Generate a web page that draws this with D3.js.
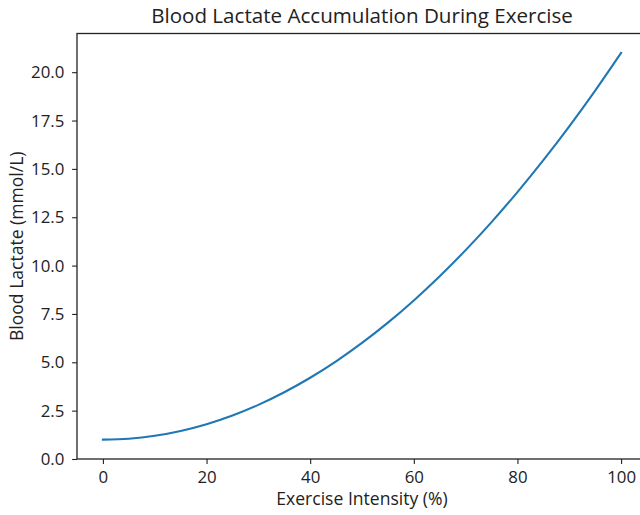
<!DOCTYPE html>
<html><head><meta charset="utf-8">
<script src="https://cdn.jsdelivr.net/npm/d3@7"></script>
<style>body{margin:0;background:#fff}svg{display:block}text{font-family:"Open Sans",sans-serif;fill:#222}</style>
</head><body>
<svg id="c" width="640" height="515"></svg>
<script>
const intensity = [0,5,10,15,20,25,30,35,40,45,50,55,60,65,70,75,80,85,90,95,100];
const lactate = [1.0,1.05,1.2,1.45,1.8,2.25,2.8,3.45,4.2,5.05,6.0,7.05,8.2,9.45,10.8,12.25,13.8,15.45,17.2,19.05,21.0];
const xTicks = [0,20,40,60,80,100];
const yTicks = [0,2.5,5,7.5,10,12.5,15,17.5,20];
const title = "Blood Lactate Accumulation During Exercise";
const xLabel = "Exercise Intensity (%)";
const yLabel = "Blood Lactate (mmol/L)";

const svg = d3.select("#c");
const L = 77, R = 647, T = 33.5, B = 459;
const x = d3.scaleLinear().domain([-5,105]).range([L,R]);
const y = d3.scaleLinear().domain([0,22]).range([B,T]);

// fit a font size so text has target width
function fitSize(str, target){
  const t = svg.append("text").attr("font-size","100px").text(str);
  const w = t.node().getComputedTextLength();
  t.remove();
  return 100*target/w;
}
const titleSize = fitSize(title, 422);
const labelSize = (fitSize(xLabel,172)+fitSize(yLabel,189))/2;
const tickSize = fitSize("20.0", 33.3);

const data = intensity.map((v,i)=>({x:v,y:lactate[i]}));
svg.append("path").datum(data)
  .attr("fill","none").attr("stroke","#1f77b4").attr("stroke-width",2.08)
  .attr("stroke-linecap","square")
  .attr("d", d3.line().x(d=>x(d.x)).y(d=>y(d.y)).curve(d3.curveCatmullRom.alpha(0.5)));

const xa = svg.append("g").attr("transform",`translate(0,${B})`)
  .call(d3.axisBottom(x).tickValues(xTicks).tickFormat(d3.format("d")).tickSize(4.9).tickSizeOuter(0));
const ya = svg.append("g").attr("transform",`translate(${L},0)`)
  .call(d3.axisLeft(y).tickValues(yTicks).tickFormat(d3.format(".1f")).tickSize(4.9).tickSizeOuter(0));
[xa,ya].forEach(g=>{
  g.select(".domain").remove();
  g.selectAll(".tick line").attr("stroke","#222").attr("stroke-width",1.1);
  g.selectAll(".tick text").attr("font-size",tickSize+"px").attr("font-family","Open Sans").attr("fill","#222");
});
xa.selectAll(".tick text").attr("y",23.8).attr("dy",null);
ya.selectAll(".tick text").attr("x",-12.7).attr("y",5.6).attr("dy",null);
// spines
svg.append("rect").attr("x",L).attr("y",T).attr("width",R-L).attr("height",B-T)
  .attr("fill","none").attr("stroke","#222").attr("stroke-width",1.3);

svg.append("text").attr("x",362).attr("y",22.8).attr("text-anchor","middle")
  .attr("font-size",titleSize+"px").text(title);
svg.append("text").attr("x",362).attr("y",505).attr("text-anchor","middle")
  .attr("font-size",labelSize+"px").text(xLabel);
svg.append("text").attr("transform",`translate(22.5,${(T+B)/2}) rotate(-90)`).attr("text-anchor","middle")
  .attr("font-size",labelSize+"px").text(yLabel);
</script>
</body></html>
